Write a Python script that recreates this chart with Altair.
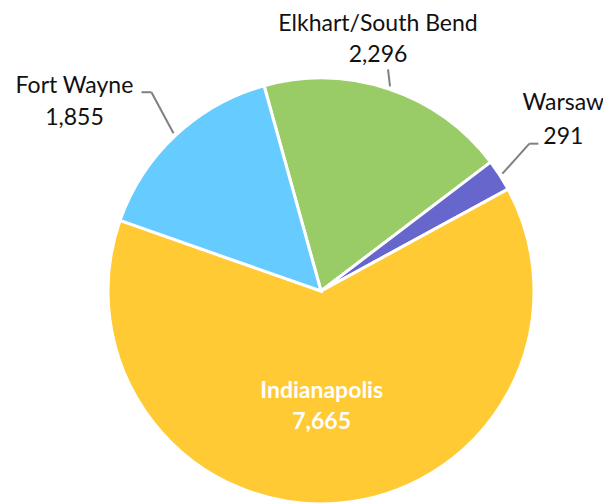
import math
import altair as alt
import pandas as pd

# ---- data ----
cities = ["Elkhart/South Bend", "Warsaw", "Indianapolis", "Fort Wayne"]
counts = [2296, 291, 7665, 1855]

# ---- styles / layout ----
colors = ["#99CC66", "#6666CC", "#FFCA33", "#66CCFF"]
CX, CY, R = 313, 283, 213
START = math.radians(-15.5)
FONT = "Lato"
FSIZE = 23
LEADER = "#808080"

# per-label layout: anchor radius, label offset, line height, leader elbow / end offsets
layout = {
    "Elkhart/South Bend": dict(r=216, lx=-12, ly=-55, lh=31, pts=[(-2, -17)], color="#111111", bold=False),
    "Warsaw": dict(r=216, lx=61, ly=-64, lh=34, pts=[(27, -30), (36, -30)], color="#111111", bold=False),
    "Indianapolis": dict(r=120, lx=-9, ly=-13, lh=31, pts=[], color="#FFFFFF", bold=True),
    "Fort Wayne": dict(r=216, lx=-99, ly=-40, lh=32, pts=[(-22, -41), (-32, -41)], color="#111111", bold=False),
}

df = pd.DataFrame({"city": cities, "count": counts, "order": list(range(len(cities)))})

arcs = alt.Chart(df).mark_arc(
    x=CX, y=CY, outerRadius=R, stroke="white", strokeWidth=3
).encode(
    theta=alt.Theta("count:Q", stack=True,
                    scale=alt.Scale(range=[START, START + 2 * math.pi])),
    color=alt.Color("city:N", scale=alt.Scale(domain=cities, range=colors), legend=None),
    order=alt.Order("order:Q"),
)

base = alt.Chart(df).transform_joinaggregate(
    total="sum(count)"
).transform_window(
    cum="sum(count)", sort=[alt.SortField("order")], frame=[None, 0]
).transform_calculate(
    mid=f"{START} + 2*PI*(datum.cum - datum.count/2)/datum.total"
)

layers = [arcs]
texts = []
for name, lo in layout.items():
    b = base.transform_filter(alt.datum.city == name).transform_calculate(
        ax=f"{CX} + {lo['r']}*sin(datum.mid)",
        ay=f"{CY} - {lo['r']}*cos(datum.mid)",
    )
    prev = (0, 0)
    for (px, py) in lo["pts"]:
        seg = b.transform_calculate(
            x1=f"datum.ax + {prev[0]}", y1=f"datum.ay + {prev[1]}",
            x2=f"datum.ax + {px}", y2=f"datum.ay + {py}",
        ).mark_rule(color=LEADER, strokeWidth=2).encode(
            x=alt.X("x1:Q", scale=None, axis=None),
            y=alt.Y("y1:Q", scale=None, axis=None),
            x2="x2:Q", y2="y2:Q",
        )
        layers.append(seg)
        prev = (px, py)
    txt = b.transform_calculate(
        tx=f"datum.ax + {lo['lx']}", ty=f"datum.ay + {lo['ly']}",
        lbl="[datum.city, format(datum.count, ',')]",
    ).mark_text(
        font=FONT, fontSize=FSIZE, fontWeight="bold" if lo["bold"] else "normal",
        color=lo["color"], align="center", baseline="alphabetic", lineHeight=lo["lh"],
    ).encode(
        x=alt.X("tx:Q", scale=None, axis=None),
        y=alt.Y("ty:Q", scale=None, axis=None),
        text="lbl:N",
    )
    texts.append(txt)

chart = alt.layer(*layers, *texts).properties(
    width=595, height=495, padding=0, autosize="none"
).configure_view(stroke=None)

chart.save("out.html", embed_options={"renderer": "svg", "actions": False})
